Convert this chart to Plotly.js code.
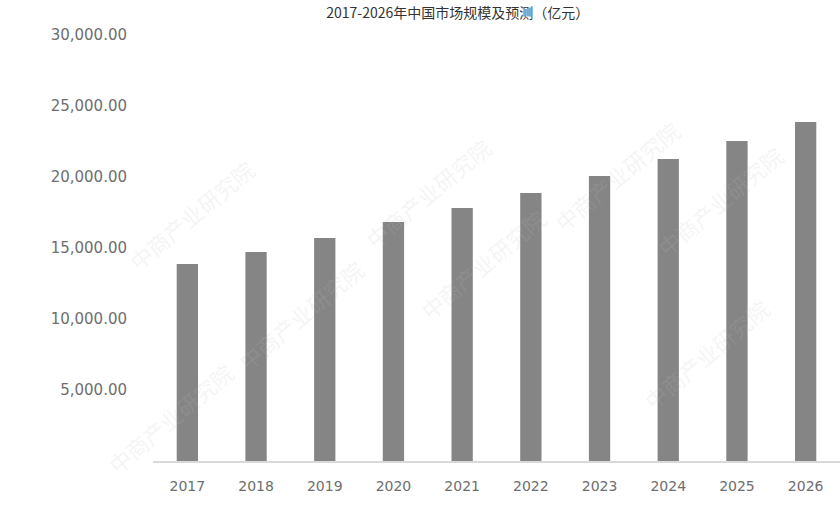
<!DOCTYPE html>
<html>
<head>
<meta charset="utf-8">
<script src="https://cdn.plot.ly/plotly-3.0.1.min.js"></script>
<style>html,body{margin:0;padding:0;background:#fff;}#chart{width:840px;height:506px;}</style>
</head>
<body>
<div id="chart"></div>
<script>
const years = ["2017","2018","2019","2020","2021","2022","2023","2024","2025","2026"];
const marketSize = [13870, 14720, 15700, 16830, 17820, 18870, 20070, 21270, 22530, 23870];
const yTickVals = [5000, 10000, 15000, 20000, 25000, 30000];
const yTickText = ["5,000.00", "10,000.00", "15,000.00", "20,000.00", "25,000.00", "30,000.00"];
const titleText = "2017-2026年中国市场规模及预测（亿元）";
const watermark = "中商产业研究院";

const wmPos = [[-0.05,0.73],[0.40,0.78],[0.78,0.82],[0.11,0.19],[0.48,0.31],[0.93,0.61],[0.91,0.10],[-0.08,-0.05]];
const annotations = wmPos.map(p => ({
  text: watermark, xref: 'paper', yref: 'paper', x: p[0], y: p[1],
  showarrow: false, textangle: -40,
  font: {family: 'Noto Sans CJK SC', size: 22, color: 'rgba(190,190,190,0.16)'}
}));

const data = [{
  type: 'bar', x: years, y: marketSize,
  marker: {color: '#858585'},
  hoverinfo: 'skip'
}];

const layout = {
  width: 840, height: 506,
  margin: {l: 153, r: 0, t: 35, b: 45},
  paper_bgcolor: '#ffffff', plot_bgcolor: '#ffffff',
  bargap: 0.69,
  showlegend: false,
  title: {
    text: titleText, x: 0.545, xanchor: 'center', y: 0.974, yanchor: 'middle', yref: 'container',
    font: {family: 'Noto Sans CJK SC', size: 14, color: '#333333'}
  },
  xaxis: {
    type: 'category', showgrid: false, zeroline: false,
    showline: true, linecolor: '#d9d9d9', linewidth: 1.5,
    ticks: '', ticklabelstandoff: 12,
    tickfont: {family: 'DejaVu Sans', size: 14, color: '#6e6e6e'}
  },
  yaxis: {
    range: [0, 30000], showgrid: false, zeroline: false, showline: false,
    tickmode: 'array', tickvals: yTickVals, ticktext: yTickText, ticks: '',
    ticklabelstandoff: 25,
    tickfont: {family: 'DejaVu Sans', size: 15, color: '#6e6e6e'}
  },
  annotations: annotations
};

Plotly.newPlot('chart', data, layout, {displayModeBar: false, staticPlot: true});
</script>
</body>
</html>
